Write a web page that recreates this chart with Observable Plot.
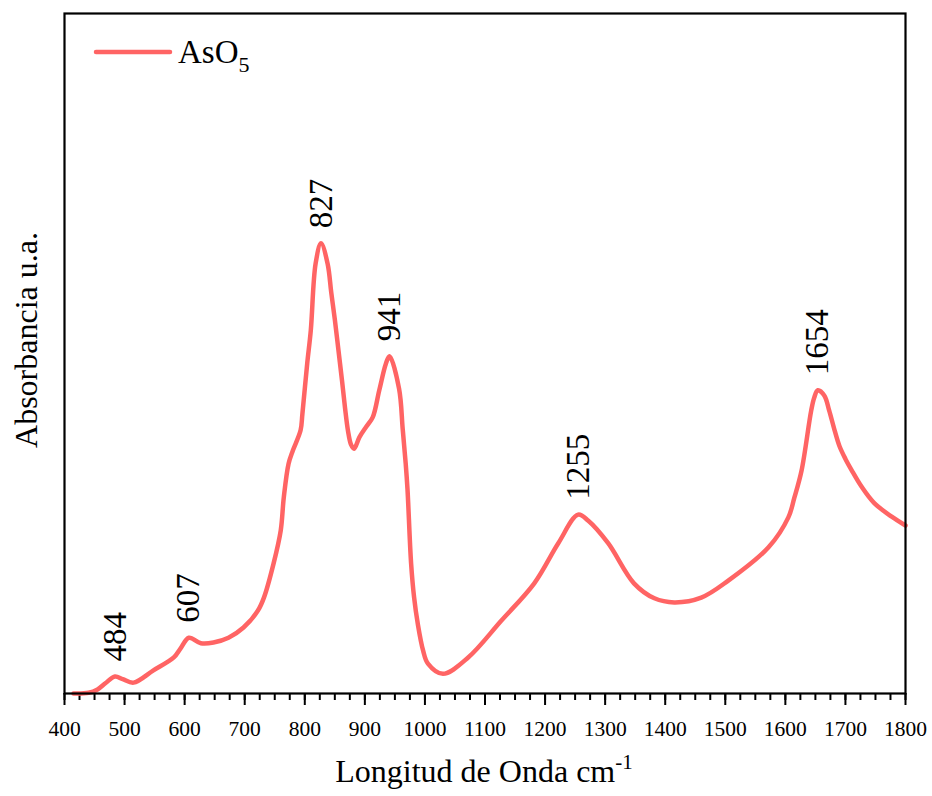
<!DOCTYPE html>
<html>
<head>
<meta charset="utf-8">
<script src="https://cdn.jsdelivr.net/npm/d3@7"></script>
<script src="https://cdn.jsdelivr.net/npm/@observablehq/plot@0.6"></script>
<style>
  html, body { margin: 0; padding: 0; background: #fff; }
  #chart svg { display: block; }
</style>
</head>
<body>
<div id="chart"></div>
<script>
// FT-IR spectrum of AsO5: wavenumber (cm^-1) and absorbance (arbitrary units)
const wavenumber = [
  415, 440, 455, 468, 484, 497, 515, 548, 582, 593, 607, 627, 648, 673, 698,
  722, 732, 748, 760, 765, 773, 780, 793, 796, 804, 810, 818, 827, 838, 844,
  850, 856, 862, 867, 872, 877, 882, 891, 902, 913, 924, 935, 941, 957,
  963, 968, 971, 977, 982, 988, 997, 1005, 1030, 1072, 1127, 1182, 1222, 1255,
  1272, 1305, 1348, 1382, 1415, 1460, 1505, 1572, 1605, 1615, 1627, 1643, 1648,
  1654, 1665, 1673, 1682, 1690, 1700, 1710, 1727, 1748, 1777, 1800
];
const absorbance = [
  0.0, 0.1, 0.6, 1.5, 2.5, 2.1, 1.6, 3.4, 5.3, 6.6, 8.2, 7.4, 7.5, 8.2, 9.7,
  12.2, 14.1, 19.1, 24.0, 28.8, 33.8, 35.7, 38.7, 41.1, 48.5, 53.4, 63.2, 66.2, 63.2, 59.0,
  55.0, 50.5, 46.0, 42.0, 38.6, 36.6, 36.0, 37.7, 39.2, 40.6, 44.6, 48.5, 49.6, 44.8,
  38.9, 33.8, 30.0, 19.1, 14.1, 10.3, 6.3, 4.4, 2.9, 5.3, 10.7, 16.2, 22.1, 26.3,
  25.4, 22.1, 16.2, 14.0, 13.4, 14.1, 16.6, 21.5, 25.9, 28.8, 32.8, 41.6, 43.5,
  44.6, 43.8, 41.6, 38.7, 36.4, 34.5, 32.9, 30.4, 28.0, 26.0, 24.7
];

// Band positions marked on the spectrum
const peaks = [484, 607, 827, 941, 1255, 1654];

// Axis ticks
const majorTicks = d3.range(400, 1801, 100);
const minorTicks = d3.range(400, 1801, 25);

const seriesName = "AsO";
const seriesSub = "5";
const xTitle = "Longitud de Onda cm";
const xTitleSup = "-1";
const yTitle = "Absorbancia u.a.";

const spectrum = wavenumber.map((w, i) => ({w, a: absorbance[i]}));
const peakRows = peaks.map(p => ({w: p, a: absorbance[wavenumber.indexOf(p)], label: String(p)}));

const serif = "'Liberation Serif', 'Times New Roman', serif";
const lineColor = "#ff6464";

const W = 932, H = 796;
const mL = 64, mR = 27, mT = 13, mB = 103;

const chart = Plot.plot({
  width: W,
  height: H,
  marginLeft: mL,
  marginRight: mR,
  marginTop: mT,
  marginBottom: mB,
  style: {fontFamily: serif, background: "#fff", color: "#000", overflow: "visible"},
  x: {domain: [400, 1800]},
  y: {domain: [0, 100], axis: null},
  marks: [
    Plot.axisX({
      ticks: minorTicks, tickSize: 7, strokeWidth: 2,
      tickFormat: () => "", label: null
    }),
    Plot.axisX({
      ticks: majorTicks, tickSize: 12, tickPadding: 15, strokeWidth: 2,
      fontSize: 21.5, fill: "#000", label: null, tickFormat: d => String(d)
    }),
    Plot.line(spectrum, {
      x: "w", y: "a", stroke: lineColor, strokeWidth: 4.5,
      curve: "catmull-rom", strokeLinejoin: "round", strokeLinecap: "round"
    }),
    Plot.text(peakRows, {
      x: "w", y: "a", text: "label", rotate: -90, textAnchor: "start",
      dy: -15, fontSize: 33, fill: "#000", fontFamily: serif
    }),
    Plot.frame({stroke: "#000", strokeWidth: 2.2})
  ]
});

const svg = d3.select(chart);

// Legend: line sample and series name with subscript
svg.append("line")
  .attr("x1", 96).attr("x2", 170).attr("y1", 52).attr("y2", 52)
  .attr("stroke", lineColor).attr("stroke-width", 4.5).attr("stroke-linecap", "round");
const leg = svg.append("text")
  .attr("x", 178).attr("y", 63).attr("text-anchor", "start")
  .attr("font-family", serif).attr("font-size", 33).attr("fill", "#000");
leg.append("tspan").text(seriesName);
leg.append("tspan").attr("dy", 9).attr("font-size", 22).text(seriesSub);

// Axis titles
const xt = svg.append("text")
  .attr("x", 484).attr("y", 782).attr("text-anchor", "middle")
  .attr("font-family", serif).attr("font-size", 32).attr("fill", "#000");
xt.append("tspan").text(xTitle);
xt.append("tspan").attr("dy", -13).attr("font-size", 21).text(xTitleSup);

svg.append("text")
  .attr("transform", "translate(37,340) rotate(-90)")
  .attr("text-anchor", "middle")
  .attr("font-family", serif).attr("font-size", 32).attr("fill", "#000")
  .text(yTitle);

document.getElementById("chart").appendChild(chart);
</script>
</body>
</html>
